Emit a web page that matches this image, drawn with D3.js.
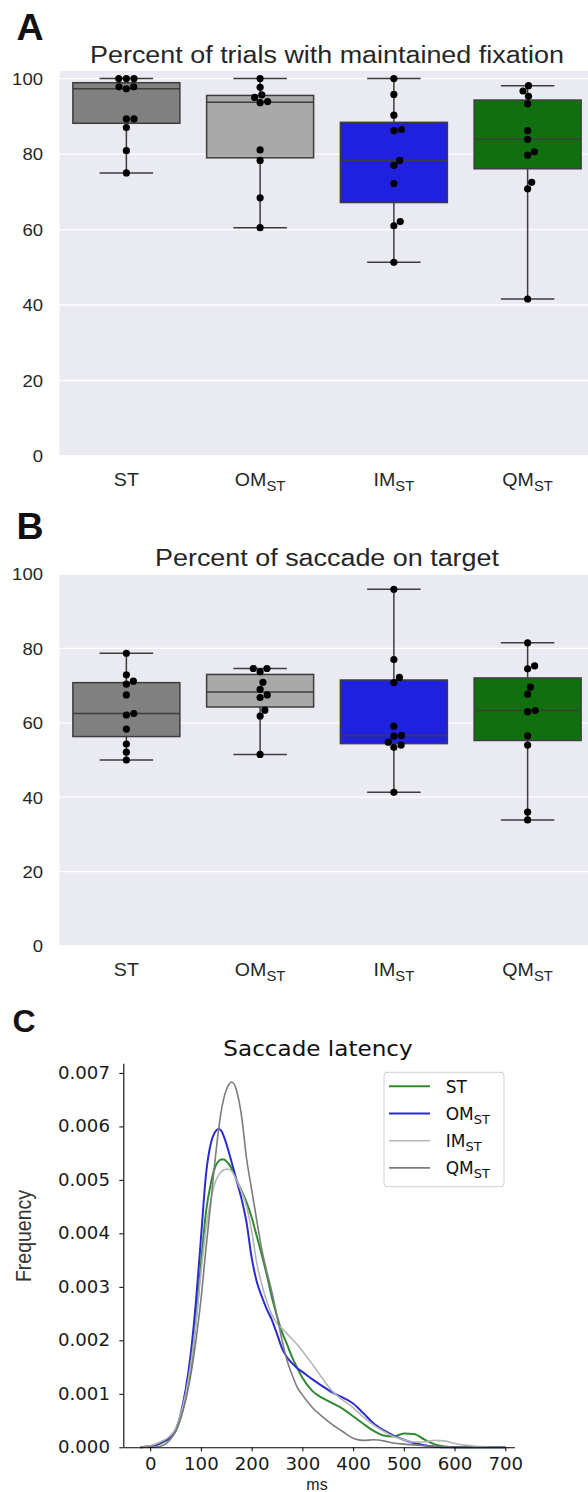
<!DOCTYPE html>
<html>
<head>
<meta charset="utf-8">
<script src="https://cdn.jsdelivr.net/npm/d3@7/dist/d3.min.js"></script>
<style>
html,body{margin:0;padding:0;background:#ffffff;}
svg{display:block;}
</style>
</head>
<body>
<svg id="fig" width="588" height="1492" xmlns="http://www.w3.org/2000/svg"></svg>
<script>
// ---------------- data ----------------
const categories = ["ST", "OM", "IM", "QM"];
const categoryMain = ["ST", "OM", "IM", "QM"];
const categorySub = ["", "ST", "ST", "ST"];
const boxColors = ["#808080", "#a9a9a9", "#2020df", "#107010"];
const boxTickValues = [0, 20, 40, 60, 80, 100];

// Panel A: percent of trials with maintained fixation (one value per subject)
const fixationST = [100, 100, 100, 97.8, 97.3, 97.8, 89.3, 89.3, 87.0, 80.9, 75.0];
const fixationOM = [100, 97.7, 95.7, 95.0, 93.9, 93.6, 81.1, 78.3, 68.4, 60.5];
const fixationIM = [100, 95.8, 90.3, 86.5, 86.2, 78.3, 77.0, 72.2, 62.1, 61.0, 51.3];
const fixationQM = [98.1, 96.7, 95.3, 93.3, 86.2, 83.9, 80.6, 79.7, 72.5, 70.8, 41.6];

// Panel B: percent of saccade on target
const saccadeST = [78.7, 72.9, 71.2, 70.4, 67.5, 62.5, 62.1, 58.3, 54.3, 52.1, 50.0];
const saccadeOM = [74.6, 74.6, 73.7, 70.9, 69.0, 67.5, 66.8, 63.4, 61.8, 51.5];
const saccadeIM = [95.9, 77.0, 72.2, 70.8, 59.1, 56.6, 56.4, 54.8, 54.0, 53.4, 41.3];
const saccadeQM = [81.5, 75.3, 74.5, 69.6, 67.7, 63.3, 63.0, 56.5, 54.0, 36.0, 33.9];

// Panel C: saccade latency density (values in units of 0.001 per ms)
const latencyMs = [-20, 0, 20, 40, 50, 60, 70, 80, 90, 100, 110, 120, 125, 130, 135, 140, 145, 150, 155, 160, 165, 170,
  180, 190, 200, 210, 220, 230, 240, 250, 260, 270, 280, 290, 300, 320, 340, 360, 380, 400, 420, 440, 460, 480, 500,
  520, 540, 560, 580, 600, 620, 640, 660, 680, 700];
const densityST = [0, 0.02, 0.07, 0.18, 0.3, 0.55, 0.95, 1.5, 2.35, 3.4, 4.4, 4.95, 5.15, 5.28, 5.35, 5.38, 5.38, 5.35, 5.3, 5.22, 5.12, 5.0,
  4.8, 4.58, 4.3, 3.95, 3.6, 3.22, 2.8, 2.45, 2.15, 1.92, 1.68, 1.48, 1.3, 1.05, 0.92, 0.82, 0.72, 0.58, 0.44, 0.31, 0.22, 0.2, 0.26,
  0.25, 0.15, 0.06, 0.015, 0, 0, 0, 0, 0, 0];
const densityOM = [0, 0.02, 0.08, 0.2, 0.32, 0.62, 1.08, 1.75, 2.7, 3.9, 5.1, 5.7, 5.84, 5.92, 5.95, 5.92, 5.82, 5.68, 5.52, 5.35, 5.18, 5.0,
  4.65, 4.2, 3.55, 3.1, 2.82, 2.58, 2.38, 2.12, 1.85, 1.68, 1.57, 1.48, 1.41, 1.27, 1.14, 1.02, 0.93, 0.82, 0.64, 0.45, 0.32, 0.22, 0.14,
  0.08, 0.04, 0.015, 0, 0, 0, 0, 0, 0, 0];
const densityIM = [0, 0.03, 0.1, 0.22, 0.35, 0.62, 1.0, 1.55, 2.3, 3.25, 4.1, 4.65, 4.85, 5.0, 5.09, 5.15, 5.19, 5.2, 5.2, 5.17, 5.1, 5.0,
  4.78, 4.5, 4.05, 3.45, 3.05, 2.72, 2.48, 2.32, 2.22, 2.12, 2.02, 1.92, 1.8, 1.55, 1.28, 1.04, 0.88, 0.74, 0.57, 0.42, 0.3, 0.2, 0.14,
  0.1, 0.1, 0.13, 0.12, 0.07, 0.04, 0.02, 0.01, 0, 0];
const densityQM = [0, 0, 0.02, 0.15, 0.3, 0.55, 0.88, 1.35, 1.98, 2.75, 3.72, 4.62, 5.1, 5.55, 5.95, 6.28, 6.52, 6.68, 6.78, 6.83, 6.8, 6.68,
  6.2, 5.4, 4.82, 4.25, 3.7, 3.28, 2.9, 2.45, 2.0, 1.62, 1.35, 1.12, 0.98, 0.74, 0.57, 0.42, 0.29, 0.17, 0.13, 0.14, 0.12, 0.08, 0.06,
  0.045, 0.03, 0.02, 0.01, 0, 0, 0, 0, 0, 0];
const lineColors = ["#2f8a2f", "#2b2bd4", "#b5b5b5", "#7c7c7c"];
const latencyTickValues = [0, 100, 200, 300, 400, 500, 600, 700];
const densityTickValues = [0, 0.001, 0.002, 0.003, 0.004, 0.005, 0.006, 0.007];

// ---------------- helpers ----------------
const svg = d3.select("#fig");
const FONT_AB = "'Liberation Sans', Arial, Helvetica, sans-serif";
const FONT_C = "'DejaVu Sans', Verdana, sans-serif";
const TXT = "#262626";

function sText(parent, x, y, opt) {
  const g = parent.append("g")
    .attr("transform", `translate(${x},${y})` + (opt.pre || "") + ` scale(${opt.sx || 1},1)` + (opt.post || ""));
  return g.append("text")
    .attr("text-anchor", opt.anchor || "start")
    .attr("font-family", opt.family || FONT_AB)
    .attr("font-size", opt.size)
    .attr("font-weight", opt.weight || "normal")
    .attr("fill", opt.fill || TXT);
}
function subLabel(t, main, sub, subSize, subDy) {
  t.append("tspan").text(main);
  if (sub) t.append("tspan").attr("font-size", subSize).attr("dy", subDy).text(sub);
}
// seaborn-like beeswarm: place each point at the smallest offset free of overlaps
function swarm(vals, y, D) {
  const pts = vals.map(v => ({ v, y: y(v) })).sort((a, b) => a.v - b.v);
  const placed = [];
  pts.forEach(p => {
    const cands = [0];
    placed.forEach(q => {
      const dy = Math.abs(q.y - p.y);
      if (dy < D) {
        const dx = Math.sqrt(D * D - dy * dy);
        cands.push(q.off + dx, q.off - dx);
      }
    });
    cands.sort((a, b) => Math.abs(a) - Math.abs(b));
    p.off = cands.find(c => placed.every(q => (q.off - c) ** 2 + (q.y - p.y) ** 2 >= D * D - 1e-6));
    placed.push(p);
  });
  return placed;
}

function boxPanel(p) {
  const g = svg.append("g");
  const x = d3.scaleBand().domain(categories).range([59.5, 594.5]);
  const y = d3.scaleLinear().domain([0, p.yMax]).range([p.bottom, p.top]);
  const [x0, x1] = x.range();
  g.append("rect").attr("x", x0).attr("y", p.top).attr("width", x1 - x0).attr("height", p.bottom - p.top)
    .attr("fill", "#eaeaf2");
  g.append("g").selectAll("line").data(boxTickValues).join("line")
    .attr("x1", x0).attr("x2", x1)
    .attr("y1", d => y(d)).attr("y2", d => y(d))
    .attr("stroke", "#ffffff").attr("stroke-width", 1.3);
  boxTickValues.forEach(v => sText(g, 43, y(v) + 6.3, { size: 17, sx: 1.09, anchor: "end" }).text(v));
  categories.forEach((c, i) => {
    const t = sText(g, x(c) + x.bandwidth() / 2, p.labelY, { size: 18.5, sx: 1.06, anchor: "middle" });
    subLabel(t, categoryMain[i], categorySub[i], 14, 5);
  });
  p.series.forEach((vals, i) => {
    const c = categories[i];
    const cx = x(c) + x.bandwidth() / 2, bw = x.bandwidth() * 0.8;
    const s = vals.slice().sort(d3.ascending);
    const q1 = d3.quantile(s, 0.25), med = d3.quantile(s, 0.5), q3 = d3.quantile(s, 0.75);
    const lo = d3.min(s), hi = d3.max(s);
    const bg = g.append("g").attr("stroke", "#3d3d3d").attr("stroke-width", 1.5);
    bg.append("line").attr("x1", cx).attr("x2", cx).attr("y1", y(q3)).attr("y2", y(hi));
    bg.append("line").attr("x1", cx).attr("x2", cx).attr("y1", y(q1)).attr("y2", y(lo));
    bg.append("line").attr("x1", cx - bw / 4).attr("x2", cx + bw / 4).attr("y1", y(hi)).attr("y2", y(hi));
    bg.append("line").attr("x1", cx - bw / 4).attr("x2", cx + bw / 4).attr("y1", y(lo)).attr("y2", y(lo));
    bg.append("rect").attr("x", cx - bw / 2).attr("y", y(q3)).attr("width", bw).attr("height", y(q1) - y(q3))
      .attr("fill", boxColors[i]);
    bg.append("line").attr("x1", cx - bw / 2).attr("x2", cx + bw / 2).attr("y1", y(med)).attr("y2", y(med));
    const pts = swarm(vals, y, 7.6);
    g.append("g").selectAll("circle").data(pts).join("circle")
      .attr("cx", d => cx + d.off).attr("cy", d => d.y).attr("r", 3.6).attr("fill", "#000");
  });
  sText(g, 327, p.titleY, { size: 23.2, sx: 1.16, anchor: "middle" }).text(p.title);
  sText(g, 16.5, p.letterY, { size: 37.5, weight: "bold", fill: "#111" }).text(p.letter);
}

boxPanel({ top: 71, bottom: 456, yMax: 102, labelY: 486, titleY: 62.7, letterY: 40,
  title: "Percent of trials with maintained fixation", letter: "A",
  series: [fixationST, fixationOM, fixationIM, fixationQM] });
boxPanel({ top: 574, bottom: 946, yMax: 100, labelY: 976, titleY: 565.7, letterY: 539,
  title: "Percent of saccade on target", letter: "B",
  series: [saccadeST, saccadeOM, saccadeIM, saccadeQM] });

// ---------------- panel C ----------------
const gC = svg.append("g");
const xC = d3.scaleLinear().domain([-53, 718]).range([123.3, 514.4]);
const yC = d3.scaleLinear().domain([0, 0.00718]).range([1447.3, 1063.3]);
const lineGen = d3.line().x((d, i) => xC(latencyMs[i])).y(d => yC(d * 1e-3)).curve(d3.curveMonotoneX);
const densSeries = [densityST, densityOM, densityIM, densityQM];
const lineWidths = [2, 2, 1.6, 1.6];
densSeries.forEach((s, i) => {
  gC.append("path").attr("d", lineGen(s)).attr("fill", "none")
    .attr("stroke", lineColors[i]).attr("stroke-width", lineWidths[i]).attr("stroke-linejoin", "round");
});
const axL = gC.append("g").attr("transform", "translate(123.3,0)")
  .call(d3.axisLeft(yC).tickValues(densityTickValues).tickFormat(d3.format(".3f"))
    .tickSize(4).tickSizeOuter(0).tickPadding(9));
const axB = gC.append("g").attr("transform", "translate(0,1447.3)")
  .call(d3.axisBottom(xC).tickValues(latencyTickValues).tickFormat(d3.format("d"))
    .tickSize(4).tickSizeOuter(0).tickPadding(7));
[axL, axB].forEach(a => {
  a.select(".domain").attr("stroke", "#000").attr("stroke-width", 1.1);
  a.selectAll(".tick line").attr("stroke", "#000").attr("stroke-width", 1);
  a.selectAll("text").attr("font-family", FONT_C).attr("font-size", 17).attr("fill", "#1a1a1a");
});
axL.selectAll("text").attr("x", -13.3 / 1.07).attr("transform", "scale(1.07,1)");
axB.selectAll("text").attr("transform", "scale(1.07,1)");
axB.selectAll(".tick text").each(function () { d3.select(this).attr("x", 0); });

sText(gC, 318, 1056, { size: 22, sx: 1.05, anchor: "middle", family: FONT_C, fill: "#111" }).text("Saccade latency");
sText(gC, 317, 1489.5, { size: 16, sx: 1.0, anchor: "middle", fill: "#222" }).text("ms");
const gFreq = gC.append("g").attr("transform", "translate(31,1236) scale(1.1,1) rotate(-90)");
gFreq.append("text").attr("text-anchor", "middle").attr("font-family", FONT_AB).attr("font-size", 19.5)
  .attr("fill", "#333").text("Frequency");
sText(gC, 12.5, 1032, { size: 32, weight: "bold", fill: "#111" }).text("C");

// legend
const lg = gC.append("g");
lg.append("rect").attr("x", 384).attr("y", 1072.3).attr("width", 120).attr("height", 114.4).attr("rx", 3)
  .attr("fill", "#ffffff").attr("fill-opacity", 0.85).attr("stroke", "#d0d0d0").attr("stroke-width", 1);
categories.forEach((c, i) => {
  const ly = 1086.3 + i * 27.2;
  lg.append("line").attr("x1", 389).attr("x2", 430).attr("y1", ly).attr("y2", ly)
    .attr("stroke", lineColors[i]).attr("stroke-width", lineWidths[i]);
  const t = sText(lg, 445.7, ly + 6.3, { size: 17, family: FONT_C, fill: "#111" });
  subLabel(t, categoryMain[i], categorySub[i], 13, 4);
});
</script>
</body>
</html>
